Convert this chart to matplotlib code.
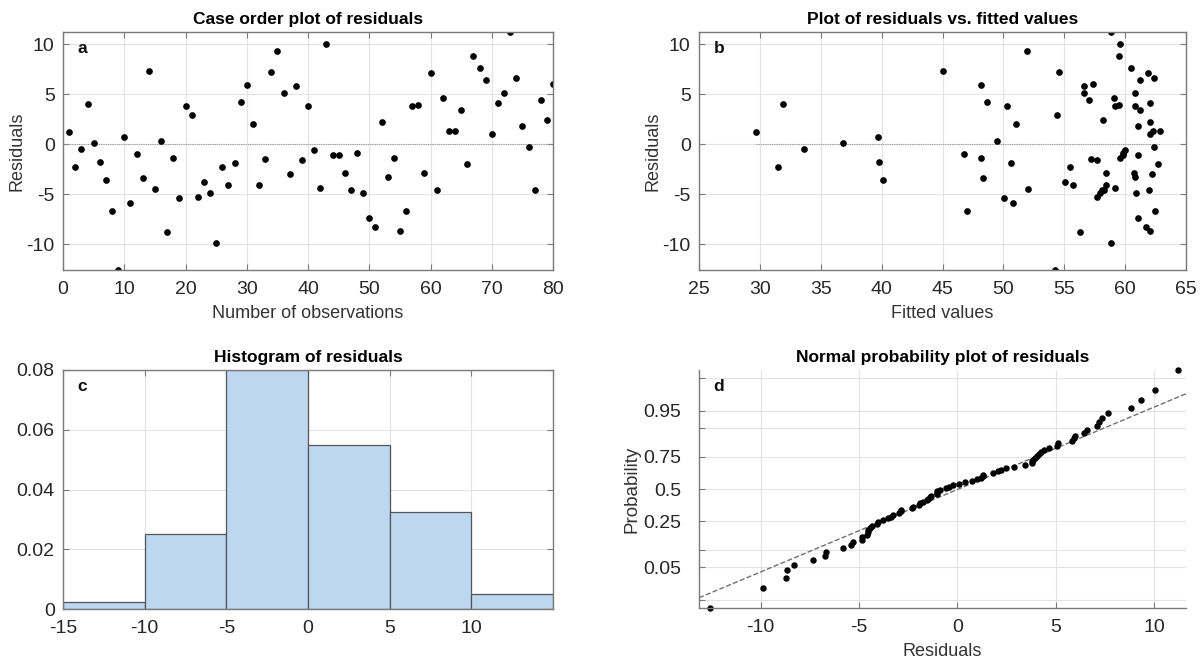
import numpy as np
import matplotlib
matplotlib.use("Agg")
import matplotlib.pyplot as plt
from statistics import NormalDist

residuals = [1.19, -2.28, -0.43, 4.04, 0.10, -1.76, -3.55, -6.68, -12.58, 0.76,
             -5.83, -1.02, -3.35, 7.35, -4.44, 0.37, -8.74, -1.36, -5.39, 3.80,
             2.88, -5.29, -3.77, -4.84, -9.86, -2.31, -4.04, -1.89, 4.27, 5.93,
             2.06, -4.07, -1.49, 7.18, 9.33, 5.13, -2.98, 5.83, -1.56, 3.87,
             -0.57, -4.34, 10.03, -1.06, -1.06, -2.88, -4.60, -0.89, -4.87, -7.35,
             -8.31, 2.21, -3.25, -1.39, -8.64, -6.72, 3.80, 3.94, -2.85, 7.12,
             -4.54, 4.64, 1.32, 1.32, 3.45, -1.96, 8.81, 7.65, 6.43, 0.99,
             4.17, 5.09, 11.22, 6.58, 1.79, -0.23, -4.54, 4.40, 2.45, 5.99]

# fitted values for the same observations
fitted = [29.7, 31.5, 33.6, 31.9, 36.8, 39.8, 40.1, 47.05, 54.24, 39.7,
          50.8, 46.75, 48.36, 45.0, 52.05, 49.5, 56.31, 48.2, 50.03, 50.33,
          54.38, 57.68, 55.06, 57.93, 58.88, 55.44, 55.69, 50.66, 48.66, 48.2,
          51.04, 58.47, 57.2, 54.54, 51.97, 56.61, 62.2, 56.59, 57.68, 60.8,
          59.98, 59.16, 59.56, 59.8, 61.04, 60.71, 58.1, 59.86, 60.9, 61.04,
          61.7, 62.03, 60.8, 59.62, 62.06, 62.47, 59.2, 59.48, 58.47, 61.89,
          62.0, 59.05, 62.31, 62.9, 61.26, 62.74, 59.48, 60.47, 61.26, 62.08,
          62.03, 60.85, 58.83, 62.36, 61.04, 62.38, 58.3, 57.0, 58.17, 57.33]

obs = np.arange(1, len(residuals) + 1)
hist_edges = [-15, -10, -5, 0, 5, 10, 15]
prob_ticks = [0.01, 0.05, 0.1, 0.25, 0.5, 0.75, 0.9, 0.95, 0.99]
prob_labels = ["", "0.05", "", "0.25", "0.5", "0.75", "", "0.95", ""]

plt.rcParams["font.family"] = ["Liberation Sans", "DejaVu Sans"]
plt.rcParams["font.size"] = 13
plt.rcParams["axes.unicode_minus"] = False

W, H = 1204, 661
fig = plt.figure(figsize=(W / 100, H / 100), dpi=100)


def box(l, t, r, b):
    return [l / W, 1 - b / H, (r - l) / W, (b - t) / H]


def style(ax, mirror=True):
    ax.grid(True, color="#e3e3e3", linewidth=0.8)
    ax.set_axisbelow(True)
    for s in ax.spines.values():
        s.set_color("#7a7a7a")
        s.set_linewidth(1.0)
    ax.tick_params(direction="in", length=4, color="#7a7a7a", labelcolor="#262626",
                   top=mirror, right=mirror, labelsize=14)
    ax.tick_params(axis="x", pad=8)
    ax.tick_params(axis="y", pad=6)


def labels(ax, xl=None, yl=None, ypad=1, ysize=13):
    if xl:
        ax.set_xlabel(xl, color="#333333", fontsize=13, labelpad=5)
    if yl:
        ax.set_ylabel(yl, color="#333333", fontsize=ysize, labelpad=ypad)


def letter(ax, s):
    ax.text(0.03, 0.93, s, transform=ax.transAxes, fontweight="bold", fontsize=12.5,
            va="center", ha="left", color="#111111")


res = np.array(residuals)

# a: case order plot
ax = fig.add_axes(box(63, 32, 553, 270))
style(ax)
ax.plot([0, 80], [0, 0], linestyle=(0, (1, 1)), color="#999999", linewidth=0.8)
ax.plot(obs, res, "o", color="black", markersize=3.8)
ax.set_xlim(0, 80)
ax.set_ylim(res.min(), res.max())
ax.set_xticks(range(0, 81, 10))
ax.set_yticks([-10, -5, 0, 5, 10])
labels(ax, "Number of observations", "Residuals")
ax.set_title("Case order plot of residuals", fontweight="bold", fontsize=12.5, pad=6)
letter(ax, "a")

# b: residuals vs fitted
ax = fig.add_axes(box(699, 32, 1186, 270))
style(ax)
ax.plot([min(fitted), max(fitted)], [0, 0], linestyle=(0, (1, 1)), color="#999999", linewidth=0.8)
ax.plot(fitted, res, "o", color="black", markersize=3.8)
ax.set_xlim(25, 65)
ax.set_ylim(res.min(), res.max())
ax.set_xticks(range(25, 66, 5))
ax.set_yticks([-10, -5, 0, 5, 10])
labels(ax, "Fitted values", "Residuals")
ax.set_title("Plot of residuals vs. fitted values", fontweight="bold", fontsize=12.5, pad=6)
letter(ax, "b")

# c: histogram
ax = fig.add_axes(box(63, 370, 553, 609))
style(ax)
ax.hist(res, bins=hist_edges, density=True, color="#bed7f0", edgecolor="#555555", linewidth=0.9)
ax.set_xlim(-15, 15)
ax.set_ylim(0, 0.08)
ax.set_xticks(hist_edges[:-1])
ax.set_yticks([0, 0.02, 0.04, 0.06, 0.08])
ax.set_yticklabels(["0", "0.02", "0.04", "0.06", "0.08"])
ax.set_title("Histogram of residuals", fontweight="bold", fontsize=12.5, pad=6)
letter(ax, "c")

# d: normal probability plot
nd = NormalDist()
srt = np.sort(res)
n = len(srt)
z = np.array([nd.inv_cdf((i - 0.5) / n) for i in range(1, n + 1)])
q1, q3 = np.percentile(srt, [25, 75])
slope = (nd.inv_cdf(0.75) - nd.inv_cdf(0.25)) / (q3 - q1)
xmid = (q1 + q3) / 2

ax = fig.add_axes(box(699, 370, 1186, 608))
style(ax, mirror=False)
ax.tick_params(axis="y", pad=13)
ax.spines["top"].set_visible(False)
ax.spines["right"].set_visible(False)
xl = (-13.14, 11.63)
ax.plot(xl, [slope * (x - xmid) for x in xl], "--", color="#707070", linewidth=1.0)
ax.plot(srt, z, "o", color="black", markersize=3.6, clip_on=False)
ax.set_xlim(*xl)
ax.set_ylim(z.min(), z.max())
ax.set_yticks([nd.inv_cdf(p) for p in prob_ticks])
ax.set_yticklabels(prob_labels)
ax.set_xticks([-10, -5, 0, 5, 10])
labels(ax, "Residuals", "Probability", ypad=2, ysize=13.5)
ax.set_title("Normal probability plot of residuals", fontweight="bold", fontsize=12.5, pad=6)
letter(ax, "d")

fig.savefig("out.png", dpi=100)
